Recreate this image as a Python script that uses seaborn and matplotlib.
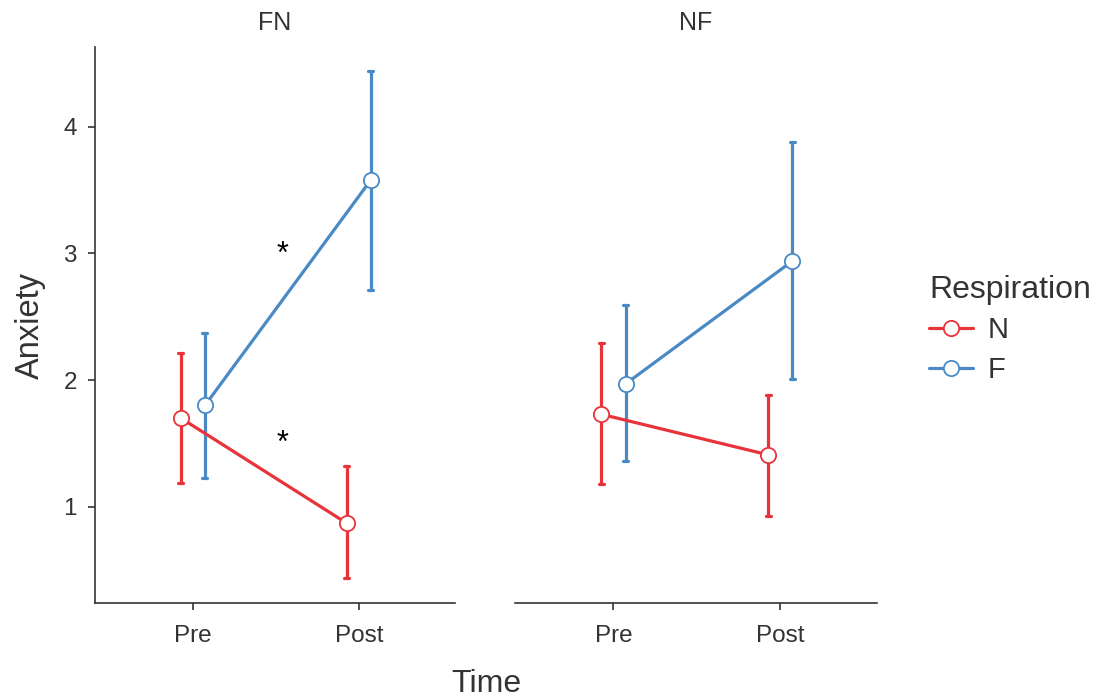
import matplotlib.pyplot as plt
import numpy as np
import pandas as pd
import seaborn as sns
from matplotlib.lines import Line2D

# Values: mean and error-bar ends per panel / time / respiration
panels = ["FN", "NF"]
times = ["Pre", "Post"]
groups = ["N", "F"]

fn_mean = {"N": [1.70, 0.87], "F": [1.80, 3.58]}
fn_low = {"N": [1.19, 0.44], "F": [1.23, 2.71]}
fn_high = {"N": [2.21, 1.32], "F": [2.37, 4.44]}

nf_mean = {"N": [1.73, 1.41], "F": [1.97, 2.94]}
nf_low = {"N": [1.18, 0.93], "F": [1.36, 2.01]}
nf_high = {"N": [2.29, 1.88], "F": [2.59, 3.88]}

colors = {"N": "#E8333A", "F": "#4A8AC4"}

# Long table: low / mean / high rows, so median = mean and 100% interval = bar ends
rows = []
for panel, mean, low, high in [("FN", fn_mean, fn_low, fn_high), ("NF", nf_mean, nf_low, nf_high)]:
    for g in groups:
        for i, t in enumerate(times):
            for v in (low[g][i], mean[g][i], high[g][i]):
                rows.append({"Panel": panel, "Time": t, "Respiration": g, "Anxiety": v})
df = pd.DataFrame(rows)

sns.set_style("ticks")
plt.rcParams["font.family"] = ["Liberation Sans", "DejaVu Sans"]
ink = "#333333"

fig = plt.figure(figsize=(10.97, 6.99), dpi=100)
ax1 = fig.add_axes([0.0866, 0.1373, 0.3282, 0.7955])
ax2 = fig.add_axes([0.4695, 0.1373, 0.3300, 0.7955], sharey=ax1)

for ax, panel in zip([ax1, ax2], panels):
    sns.pointplot(
        data=df[df["Panel"] == panel],
        x="Time", y="Anxiety", hue="Respiration",
        order=times, hue_order=groups, palette=colors,
        estimator=np.median, errorbar=("pi", 100),
        dodge=0.145, capsize=0.03,
        markers="o", markersize=11, markerfacecolor="white", markeredgewidth=1.3,
        linewidth=2.3, err_kws={"linewidth": 2.3},
        legend=False, ax=ax,
    )
    for ln in ax.lines:
        if ln.get_marker() == "o":
            ln.set_zorder(5)
    ax.set_title(panel, fontsize=18, color=ink, pad=12)
    ax.set_xlim(-0.59, 1.58)
    ax.set_xlabel("")
    ax.tick_params(axis="both", labelsize=17.5, colors=ink, length=5, width=1.2)
    ax.tick_params(axis="x", pad=11)
    ax.tick_params(axis="y", pad=8)
    for s in ["top", "right"]:
        ax.spines[s].set_visible(False)
    ax.spines["bottom"].set_color(ink)
    ax.spines["left"].set_color(ink)
    ax.spines["bottom"].set_linewidth(1.2)
    ax.spines["left"].set_linewidth(1.2)

ax1.set_ylim(0.24, 4.63)
ax1.set_yticks([1, 2, 3, 4])
ax1.set_ylabel("Anxiety", fontsize=23.5, color=ink)
ax1.yaxis.label.set_va("center")
ax1.yaxis.set_label_coords(-0.18, 0.5)
ax2.spines["left"].set_visible(False)
ax2.tick_params(axis="y", left=False, labelleft=False)
ax2.set_ylabel("")

# significance marks in FN panel
ax1.text(0.54, 2.99, "*", fontsize=22, ha="center", va="center", color="black")
ax1.text(0.54, 1.50, "*", fontsize=22, ha="center", va="center", color="black")

fig.text(0.4435, 0.021, "Time", fontsize=23, color=ink, ha="center", va="center")

handles = [
    Line2D([], [], color=colors[g], marker="o", markerfacecolor="white",
           markersize=11, markeredgewidth=1.3, linewidth=2.3)
    for g in groups
]
leg = fig.legend(handles, groups, title="Respiration", loc="upper left",
                 bbox_to_anchor=(0.834, 0.628), frameon=False, fontsize=21,
                 title_fontsize=23, handlelength=1.5, handletextpad=0.5,
                 labelspacing=0.4, alignment="left", borderpad=0.0)
for t in leg.get_texts():
    t.set_color(ink)
leg.get_title().set_color(ink)

fig.savefig("out.png", dpi=100)
